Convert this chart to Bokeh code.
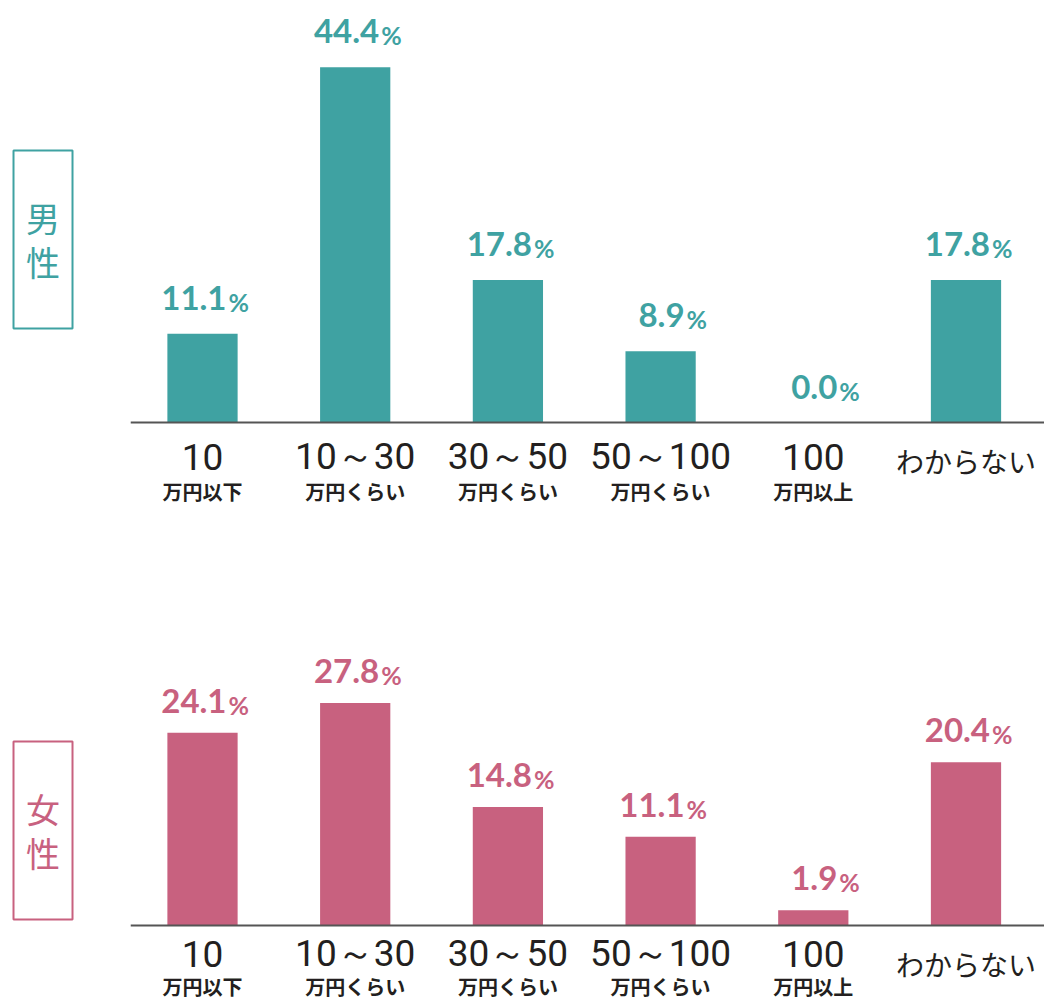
import numpy as np
from bokeh.plotting import figure
from bokeh.models import ColumnDataSource, Range1d
from bokeh.core.properties import value
from bokeh.embed import file_html
from bokeh.resources import INLINE

# ---- data ----
categories_main = ["10", "10～30", "30～50", "50～100", "100", "わからない"]
categories_sub = ["万円以下", "万円くらい", "万円くらい", "万円くらい", "万円以上", ""]
male_values = [11.1, 44.4, 17.8, 8.9, 0.0, 17.8]
female_values = [24.1, 27.8, 14.8, 11.1, 1.9, 20.4]
panel_titles = ["男性", "女性"]
panel_colors = ["#3fa2a2", "#c8617f"]

TEXT_DARK = "#231f20"
NUM_FONT = value("Lato")
CAT_FONT = value("Roboto")
JP_FONT = value("Noto Sans CJK JP")

W, H = 1044, 1004

p = figure(width=W, height=H,
           x_range=Range1d(-1.3229, 5.5141), y_range=Range1d(-72.75, 52.75),
           x_axis_type=None, y_axis_type=None,
           toolbar_location=None, output_backend="svg",
           min_border=0, outline_line_color=None)
p.grid.visible = False
p.extra_y_ranges = {"female": Range1d(-9.875, 115.625)}


def draw_panel(values, title, color, range_name, box_y, label_gap, main_y, sub_y):
    idx = list(range(len(values)))
    kw = {} if range_name is None else {"y_range_name": range_name}

    ly = [v + label_gap for v in values]
    src = ColumnDataSource(dict(
        x=idx, top=values,
        num=[f"{v:.1f}" for v in values],
        ly=ly,
        py=[y - 0.5 for y in ly],
        pct=["%"] * len(values),
    ))
    p.vbar(x="x", top="top", bottom=0, width=0.46, source=src,
           fill_color=color, line_color=None, **kw)

    # baseline
    p.segment(x0=[-0.47], y0=[0], x1=[5.6], y1=[0], line_color="#555555", line_width=2, **kw)

    # value labels
    p.text(x="x", y="ly", text="num", source=src, x_offset=24,
           text_align="right", text_baseline="middle",
           text_font=NUM_FONT, text_font_style="bold", text_font_size="33px",
           text_color=color, **kw)
    p.text(x="x", y="py", text="pct", source=src, x_offset=26,
           text_align="left", text_baseline="middle",
           text_font=NUM_FONT, text_font_style="bold", text_font_size="25px",
           text_color=color, **kw)

    # category labels
    main_idx = [i for i, s in enumerate(categories_sub) if s]
    other_idx = [i for i, s in enumerate(categories_sub) if not s]
    csrc = ColumnDataSource(dict(
        x=main_idx,
        main=[categories_main[i] for i in main_idx],
        sub=[categories_sub[i] for i in main_idx],
        y1=[main_y] * len(main_idx),
        y2=[sub_y] * len(main_idx),
    ))
    p.text(x="x", y="y1", text="main", source=csrc, text_align="center",
           text_baseline="middle", text_font=CAT_FONT, text_font_size="37px",
           text_color=TEXT_DARK, **kw)
    p.text(x="x", y="y2", text="sub", source=csrc, text_align="center",
           text_baseline="middle", text_font=JP_FONT, text_font_style="bold",
           text_font_size="20px", text_color=TEXT_DARK, **kw)
    osrc = ColumnDataSource(dict(
        x=other_idx,
        main=[categories_main[i] for i in other_idx],
        y=[-4.75] * len(other_idx),
    ))
    p.text(x="x", y="y", text="main", source=osrc, text_align="center",
           text_baseline="middle", text_font=JP_FONT, text_font_size="28px",
           text_color=TEXT_DARK, **kw)

    # boxed vertical title
    p.rect(x=[-1.0445], y=[box_y], width=59, height=178,
           width_units="screen", height_units="screen",
           fill_color="white", line_color=color, line_width=2, **kw)
    chars = list(title)
    p.text(x=[-1.0445] * len(chars), y=[box_y + 2.8, box_y - 2.8], text=chars,
           text_align="center", text_baseline="middle", text_font=JP_FONT,
           text_font_size="34px", text_color=color, **kw)


draw_panel(male_values, panel_titles[0], panel_colors[0], None, 22.875, 4.5, -4.25, -8.625)
draw_panel(female_values, panel_titles[1], panel_colors[1], "female", 11.875, 4.0, -3.5, -7.6)

open("out.html", "w").write(file_html(p, INLINE))
